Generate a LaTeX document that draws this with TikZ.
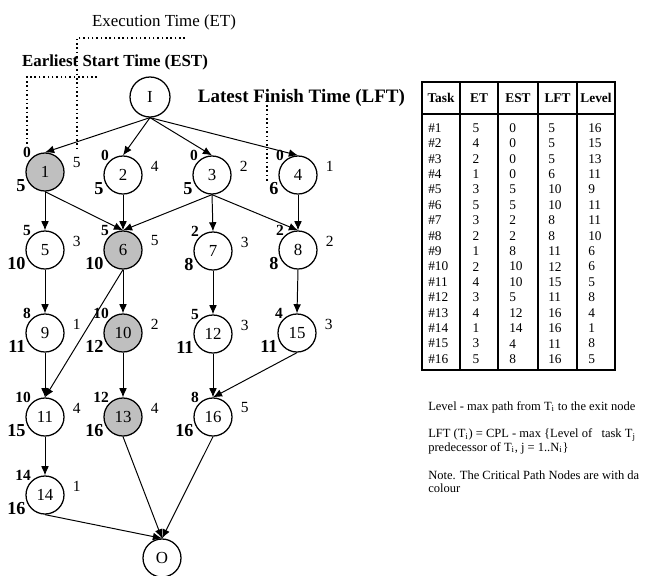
\documentclass[tikz,border=0pt]{standalone}
\usepackage{fontspec}
\setmainfont{Liberation Serif}
\usetikzlibrary{arrows.meta,calc}

\begin{document}
\begin{tikzpicture}[x=0.025cm, y=-0.025cm, >={Latex[length=6.5pt,width=5.5pt]},
    task/.style={circle, draw, line width=0.9pt, minimum size=0.95cm,
                 inner sep=0pt, font=\fontsize{12}{12}\selectfont},
    crit/.style={task, fill=gray!50},
    est/.style={anchor=south east, inner sep=0pt,
                font=\fontsize{11}{11}\selectfont\bfseries},
    et/.style={anchor=west, inner sep=0pt, xshift=7pt, yshift=0.5pt,
               font=\fontsize{11}{11}\selectfont},
    lft/.style={anchor=east, inner sep=0pt, xshift=-1.5pt, yshift=-2.5pt,
                font=\fontsize{13}{13}\selectfont\bfseries},
    edge/.style={->, line width=0.7pt},
    leader/.style={dotted, line width=1.1pt},
    cell/.style={inner sep=0pt, font=\fontsize{9.5}{9.5}\selectfont},
    head/.style={cell, font=\fontsize{9.5}{9.5}\selectfont\bfseries},
    note/.style={anchor=west, inner sep=0pt, font=\fontsize{8.9}{11}\selectfont}]

  \useasboundingbox (0,0) rectangle (646,575);

  %% ── Titles ──────────────────────────────────────────────
  \node[font=\fontsize{12}{12}\selectfont] (ettitle) at (164,22) {Execution Time (ET)};
  \node[font=\fontsize{12}{12}\selectfont\bfseries] (esttitle) at (115,62) {Earliest Start Time (EST)};
  \node[font=\fontsize{13.5}{13.5}\selectfont\bfseries, anchor=west] (lfttitle) at (193,98) {Latest Finish Time (LFT)};

  %% ── Task graph ──────────────────────────────────────────
  \node[task, minimum size=1.0cm] (tin) at (150,97) {I};

  \node[crit, label={[est, name=l1est]135:0}, label={[et, name=l1et]25:5}, label={[lft]210:5}] (t1) at (45,172) {1};
  \node[task, label={[est]135:0}, label={[et]25:4}, label={[lft]210:5}] (t2) at (123,175) {2};
  \node[task, label={[est]135:0}, label={[et]25:2}, label={[lft]210:5}] (t3) at (212,175) {3};
  \node[task, label={[est]135:0}, label={[et]25:1}, label={[lft, name=l4lft]210:6}] (t4) at (298,175) {4};

  \node[task, label={[est]135:5}, label={[et]25:3}, label={[lft]210:10}] (t5) at (45,250) {5};
  \node[crit, label={[est]135:5}, label={[et]25:5}, label={[lft]210:10}] (t6) at (123,250) {6};
  \node[task, label={[est]135:2}, label={[et]25:3}, label={[lft]210:8}] (t7) at (213,251) {7};
  \node[task, label={[est]135:2}, label={[et]25:2}, label={[lft]210:8}] (t8) at (298,250) {8};

  \node[task, label={[est]135:8}, label={[et]25:1}, label={[lft]210:11}] (t9) at (45,333) {9};
  \node[crit, label={[est]135:10}, label={[et]25:2}, label={[lft]210:12}] (t10) at (123,333) {10};
  \node[task, label={[est]135:5}, label={[et]25:3}, label={[lft]210:11}] (t12) at (213,334) {12};
  \node[task, label={[est]135:4}, label={[et]25:3}, label={[lft]210:11}] (t15) at (297,333) {15};

  \node[task, label={[est]135:10}, label={[et]25:4}, label={[lft]210:15}] (t11) at (45,417) {11};
  \node[crit, label={[est]135:12}, label={[et]25:4}, label={[lft]210:16}] (t13) at (123,417) {13};
  \node[task, label={[est]135:8}, label={[et]25:5}, label={[lft]210:16}] (t16) at (213,417) {16};

  \node[task, label={[est]135:14}, label={[et]25:1}, label={[lft]210:16}] (t14) at (45,495) {14};

  \node[task] (tout) at (162,558) {O};

  %% edges
  \foreach \dst in {t1,t2,t3,t4}
    \draw[edge] (tin.south) -- (\dst.north);
  \draw[edge] (t1.south) -- (t5.north);
  \draw[edge] (t1.south) -- (t6.north);
  \draw[edge] (t2.south) -- (t6.north);
  \draw[edge] (t3.south) -- (t6.north);
  \draw[edge] (t3.south) -- (t7.north);
  \draw[edge] (t3.south) -- (t8.north);
  \draw[edge] (t4.south) -- (t8.north);
  \draw[edge] (t5.south) -- (t9.north);
  \draw[edge] (t6.south) -- (t10.north);
  \draw[edge] (t6.south) -- (t11.north);
  \draw[edge] (t7.south) -- (t12.north);
  \draw[edge] (t8.south) -- (t15.north);
  \draw[edge] (t9.south) -- (t11.north);
  \draw[edge] (t10.south) -- (t13.north);
  \draw[edge] (t12.south) -- (t16.north);
  \draw[edge] (t15.south) -- (t16.north);
  \draw[edge] (t11.south) -- (t14.north);
  \draw[edge] (t14.south) -- (tout.north);
  \draw[edge] (t13.south) -- (tout.north);
  \draw[edge] (t16.south) -- (tout.north);

  %% dotted leaders from the titles
  \coordinate (etend) at (185,38);
  \coordinate (estend) at (97,77);
  \coordinate (lftend) at (267,105);
  \draw[leader] (etend) -| ([yshift=4pt]l1et.north);
  \draw[leader] (estend) -| ([yshift=2pt]l1est.north);
  \draw[leader] (lftend) -- (lftend |- l4lft.north);

  %% ── Table ───────────────────────────────────────────────
  \draw[line width=0.9pt] (422,82) rectangle (615,370);
  \draw[line width=0.9pt] (422,114) -- (615,114);
  \foreach \x in {460,498,538,577}
    \draw[line width=0.8pt] (\x,82) -- (\x,370);

  \foreach \h/\x [count=\c] in {Task/441, ET/479, EST/518, LFT/557.5, Level/596}
    \node[head] (hd\c) at (\x,98) {\h};

  \foreach \et/\est/\lft/\lv [count=\r] in {5/0/5/16, 4/0/5/15, 2/0/5/13, 1/0/6/11,
      3/5/10/9, 5/5/10/11, 3/2/8/11, 2/2/8/10, 1/8/11/6, 2/10/12/6, 4/10/15/5,
      3/5/11/8, 4/12/16/4, 1/14/16/1, 3/4/11/8, 5/8/16/5} {
    \pgfmathsetmacro{\yr}{128+(\r-1)*15.4}
    \node[cell, anchor=west] (tk\r) at (428,\yr) {\#\r};
    \node[cell] (et\r) at (476,\yr) {\et};
    \node[cell, anchor=west] (es\r) at (509,\yr) {\est};
    \node[cell, anchor=west] (lf\r) at (548,\yr) {\lft};
    \node[cell, anchor=west] (lv\r) at (588,\yr) {\lv};
  }

  %% ── Notes ───────────────────────────────────────────────
  \node[note] (note1) at (428,407) {Level - max path from T\textsubscript{i} to the exit node};
  \node[note] (note2) at (428,435) {LFT (T\textsubscript{i}) = CPL - max \{Level of \ \ task T\textsubscript{j}};
  \node[note] (note3) at (428,448) {predecessor of T\textsubscript{i}, j = 1..N\textsubscript{i}\}};
  \node[note] (note4) at (428,475) {Note. The Critical Path Nodes are with da};
  \node[note] (note5) at (428,488) {colour};

\end{tikzpicture}
\end{document}
